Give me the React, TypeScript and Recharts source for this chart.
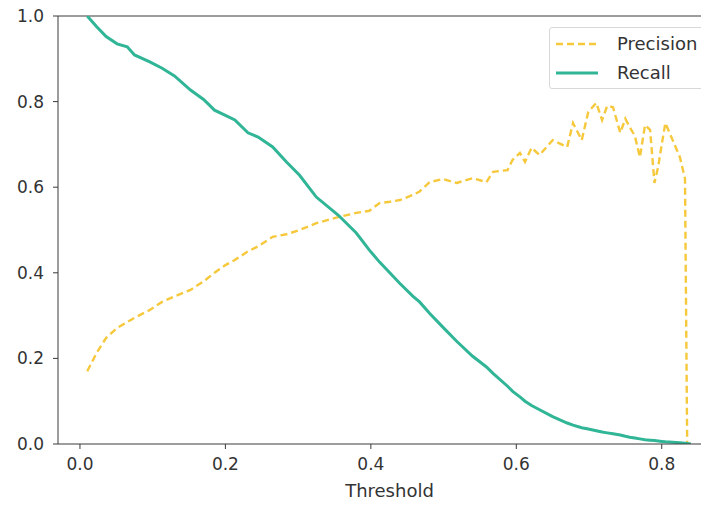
import React from "react";
import {
  LineChart,
  Line,
  XAxis,
  YAxis,
  ReferenceLine,
  Legend
} from "recharts";

const thresholds = [
  0.01, 0.023, 0.036, 0.051, 0.065, 0.075, 0.096, 0.113, 0.13, 0.152, 0.17, 0.185,
  0.2, 0.213, 0.231, 0.245, 0.265, 0.284, 0.302, 0.325, 0.355, 0.38, 0.398, 0.412,
  0.426, 0.44, 0.458, 0.467, 0.481, 0.499, 0.518, 0.54, 0.559, 0.568, 0.588, 0.595,
  0.605, 0.612, 0.621, 0.632, 0.65, 0.67, 0.678, 0.69, 0.699, 0.71, 0.718, 0.725,
  0.733, 0.743, 0.75, 0.756, 0.763, 0.77, 0.777, 0.784, 0.79, 0.795, 0.8, 0.805,
  0.815, 0.825, 0.832, 0.835, 0.84
];

const precision = [
  0.17, 0.213, 0.248, 0.271, 0.285, 0.295, 0.313, 0.332, 0.345, 0.36, 0.38, 0.4,
  0.418, 0.43, 0.45, 0.462, 0.484, 0.49, 0.5, 0.516, 0.53, 0.54, 0.545, 0.563,
  0.566, 0.57, 0.582, 0.59, 0.612, 0.619, 0.61, 0.621, 0.612, 0.636, 0.64, 0.664,
  0.68, 0.659, 0.692, 0.675, 0.71, 0.694, 0.75, 0.71, 0.776, 0.797, 0.757, 0.79,
  0.787, 0.727, 0.76, 0.74, 0.72, 0.67, 0.745, 0.734, 0.61, 0.647, 0.7, 0.75,
  0.71, 0.67, 0.62, 0.0, 0.0
];

const recall = [
  1.0, 0.975, 0.952, 0.935, 0.928, 0.909, 0.893, 0.878, 0.86, 0.827, 0.805, 0.78,
  0.768, 0.757, 0.727, 0.717, 0.694, 0.659, 0.628, 0.577, 0.535, 0.493, 0.453, 0.425,
  0.4, 0.375, 0.345, 0.332, 0.305, 0.273, 0.24, 0.205, 0.18, 0.165, 0.135, 0.123,
  0.11, 0.1, 0.09, 0.08, 0.064, 0.049, 0.044, 0.038, 0.035, 0.031, 0.028, 0.026,
  0.024, 0.021, 0.018, 0.016, 0.014, 0.012, 0.01, 0.009, 0.008, 0.007, 0.006, 0.005,
  0.004, 0.003, 0.002, 0.001, 0.0
];

const xTicks = [0, 0.2, 0.4, 0.6, 0.8];
const yTicks = [0, 0.2, 0.4, 0.6, 0.8, 1.0];

const data = thresholds.map((t, i) => ({ t, precision: precision[i], recall: recall[i] }));

const YELLOW = "#f6c83c";
const TEAL = "#30b596";
const AXIS = "#3a3a3a";
const TEXT = "#333";
const FONT = "DejaVu Sans, sans-serif";

// matplotlib-style legend box, upper right
const LegendBox = () => (
  <div
    style={{
      position: "absolute",
      left: 549,
      top: 27,
      width: 158,
      height: 62,
      boxSizing: "border-box",
      border: "1px solid #d8d8d8",
      borderRadius: 3,
      background: "#fff",
      fontFamily: FONT,
      fontSize: 18,
      color: TEXT
    }}
  >
    <div style={{ display: "flex", alignItems: "center", height: 29, marginTop: 1 }}>
      <svg width={58} height={10} style={{ marginLeft: 5 }}>
        <line x1={1} y1={5} x2={43} y2={5} stroke={YELLOW} strokeWidth={2.4} strokeDasharray="7 4" />
      </svg>
      <span style={{ marginLeft: 4 }}>Precision</span>
    </div>
    <div style={{ display: "flex", alignItems: "center", height: 29 }}>
      <svg width={58} height={10} style={{ marginLeft: 5 }}>
        <line x1={1} y1={5} x2={43} y2={5} stroke={TEAL} strokeWidth={3} />
      </svg>
      <span style={{ marginLeft: 4 }}>Recall</span>
    </div>
  </div>
);

export default function App() {
  return (
    <div style={{ margin: -8, width: 709, height: 506, overflow: "hidden", position: "relative", background: "#fff" }}>
      <LineChart
        width={740}
        height={506}
        data={data}
        margin={{ top: 16, right: 19, left: 0, bottom: 0 }}
      >
        <XAxis
          dataKey="t"
          type="number"
          domain={[-0.0302, 0.8815]}
          ticks={xTicks}
          allowDataOverflow
          tickFormatter={(v: number) => v.toFixed(1)}
          stroke={AXIS}
          tick={{ fill: TEXT, fontSize: 17, fontFamily: FONT }}
          tickSize={5}
          tickMargin={9}
          height={62}
          label={{ value: "Threshold", position: "insideBottom", offset: 9, fill: TEXT, fontSize: 18, fontFamily: FONT }}
        />
        <YAxis
          type="number"
          domain={[0, 1]}
          ticks={yTicks}
          allowDataOverflow
          tickFormatter={(v: number) => v.toFixed(1)}
          stroke={AXIS}
          tick={{ fill: TEXT, fontSize: 17, fontFamily: FONT }}
          tickSize={5}
          tickMargin={9}
          width={58}
        />
        <ReferenceLine y={1} stroke={AXIS} />
        <Legend content={() => <LegendBox />} wrapperStyle={{ position: "absolute", left: 0, top: 0, width: 0, height: 0 }} />
        <Line
          type="linear"
          dataKey="precision"
          stroke={YELLOW}
          strokeWidth={2.4}
          strokeDasharray="7 4"
          dot={false}
          isAnimationActive={false}
        />
        <Line
          type="linear"
          dataKey="recall"
          stroke={TEAL}
          strokeWidth={3}
          dot={false}
          isAnimationActive={false}
        />
      </LineChart>
    </div>
  );
}
